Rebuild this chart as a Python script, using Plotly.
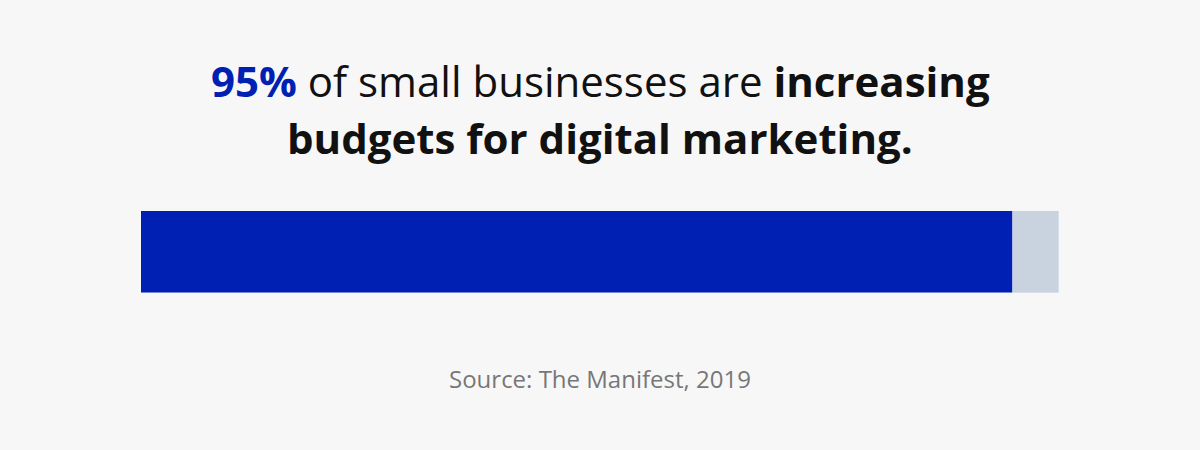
import plotly.graph_objects as go

categories = ["Small businesses"]
increasing = [95]
other = [5]

fig = go.Figure()
fig.add_trace(go.Bar(y=categories, x=increasing, orientation="h", marker_color="#0020b4", width=1, hoverinfo="skip"))
fig.add_trace(go.Bar(y=categories, x=other, orientation="h", marker_color="#c9d3df", width=1, hoverinfo="skip"))

def py(p):
    return (293 - p) / 82

fnt = "Open Sans, Inter, sans-serif"
fig.add_annotation(x=0.5, y=py(80), xref="paper", yref="paper", showarrow=False,
                   text="<b><span style='color:#0020b4'>95%</span></b> of small businesses are <b>increasing</b>",
                   font=dict(family=fnt, size=42, color="#111"), xanchor="center", yanchor="middle")
fig.add_annotation(x=0.5, y=py(137), xref="paper", yref="paper", showarrow=False,
                   text="<b>budgets for digital marketing.</b>",
                   font=dict(family=fnt, size=42, color="#111"), xanchor="center", yanchor="middle")
fig.add_annotation(x=0.5, y=py(378), xref="paper", yref="paper", showarrow=False,
                   text="Source: The Manifest, 2019",
                   font=dict(family=fnt, size=24, color="#777"), xanchor="center", yanchor="middle")

fig.update_layout(
    barmode="stack", width=1200, height=450, showlegend=False,
    paper_bgcolor="#f7f7f7", plot_bgcolor="#f7f7f7",
    margin=dict(l=141, r=141, t=211, b=157),
    xaxis=dict(range=[0, 100], visible=False, fixedrange=True),
    yaxis=dict(range=[-0.5, 0.5], visible=False, fixedrange=True),
    bargap=0,
)
fig.write_html("out.html", config={"displayModeBar": False})
with open("out.html", encoding="utf-8") as f:
    html = f.read()
html = html.replace("<body>", "<body style='margin:0;background:#f7f7f7'>", 1)
with open("out.html", "w", encoding="utf-8") as f:
    f.write(html)
